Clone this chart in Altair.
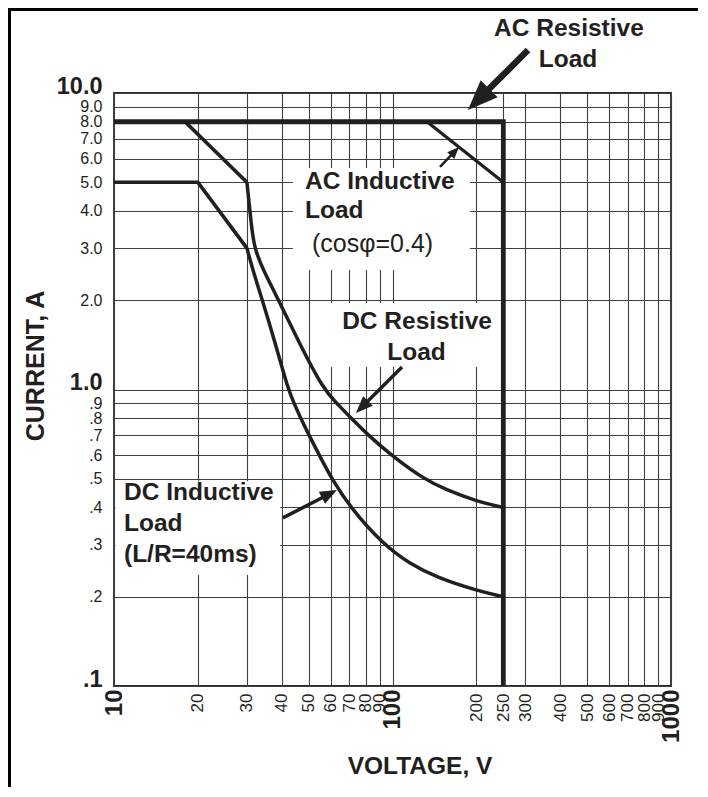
import math
import altair as alt
import pandas as pd

# ---------------- chart data ----------------
# axis ticks / labels
x_ticks = [10, 20, 30, 40, 50, 60, 70, 80, 90, 100, 200, 250, 300, 400, 500, 600, 700, 800, 900, 1000]
x_labels = ["10", "20", "30", "40", "50", "60", "70", "80", "90", "100", "200", "250", "300",
            "400", "500", "600", "700", "800", "900", "1000"]
x_bold = [10, 100, 1000]
y_ticks = [0.1, 0.2, 0.3, 0.4, 0.5, 0.6, 0.7, 0.8, 0.9, 1, 2, 3, 4, 5, 6, 7, 8, 9, 10]
y_labels = [".1", ".2", ".3", ".4", ".5", ".6", ".7", ".8", ".9", "1.0", "2.0", "3.0", "4.0",
            "5.0", "6.0", "7.0", "8.0", "9.0", "10.0"]
y_bold = [0.1, 1, 10]

# load curves (voltage V, current A)
ac_res_v = [10, 250, 250]
ac_res_i = [8.0, 8.0, 0.1]
ac_ind_v = [133, 250]
ac_ind_i = [8.0, 5.0]
dc_res_knee_v = [10, 18, 30]
dc_res_knee_i = [8.0, 8.0, 5.0]
dc_res_curve_v = [30, 30.8, 31.7, 34.7, 39, 46, 56.5, 63, 71, 82, 99, 129, 155, 200, 250]
dc_res_curve_i = [5.0, 4.0, 3.0, 2.48, 2.0, 1.45, 1.0, 0.9, 0.8, 0.7, 0.6, 0.5, 0.46, 0.42, 0.4]
dc_ind_knee_v = [10, 20, 30]
dc_ind_knee_i = [5.0, 5.0, 3.0]
dc_ind_curve_v = [30, 31.7, 34.1, 37.8, 42.2, 44.3, 46.8, 50.2, 54.6, 60.5, 70.5, 92.7, 115, 144.5, 200, 250]
dc_ind_curve_i = [3.0, 2.48, 2.0, 1.45, 1.0, 0.9, 0.8, 0.7, 0.6, 0.5, 0.4, 0.3, 0.259, 0.232, 0.21, 0.2]

# white boxes behind the annotation text (data coordinates)
box_v1 = [10.12, 43.9, 54.9]
box_v2 = [39.5, 189.7, 243.0]
box_i1 = [0.49, 5.59, 1.957]
box_i2 = [0.237, 2.53, 1.19]

# annotation text
ann_text = ["AC Resistive", "Load", "DC Resistive", "Load",
            "AC Inductive", "Load", "DC Inductive", "Load", "(L/R=40ms)",
            "(cosφ=0.4)"]
ann_v = [430, 427, 122.5, 122, 48.5, 48.5, 10.86, 10.86, 10.86, 51.4]
ann_i = [15.57, 12.24, 1.60, 1.257, 4.745, 3.79, 0.424, 0.333, 0.262, 2.91]
ann_kind = ["bold-center", "bold-center", "bold-center", "bold-center",
            "bold-left", "bold-left", "bold-left", "bold-left", "bold-left",
            "regular-left"]

# arrows (tail -> tip)
arrow_tail_v = [306.6, 148.1, 108.2, 40.4]
arrow_tail_i = [13.96, 5.63, 1.191, 0.369]
arrow_tip_v = [186.6, 173.3, 73.9, 63.2]
arrow_tip_i = [8.76, 6.58, 0.833, 0.458]
arrow_head_len = [30, 12, 17, 17]
arrow_shaft_w = [6.5, 2.5, 3.5, 3.5]

# ---------------- layout / style ----------------
PLOT_W, PLOT_H = 557, 593
X_DECADES, Y_DECADES = 2.0, 2.0
INK = "#231f20"
GRID = "#404040"
FONT = "Liberation Sans, Arial, Helvetica, sans-serif"


def lg(v):
    return math.log10(v)


def series_df(name, vs, is_):
    return pd.DataFrame({"series": name, "order": list(range(len(vs))), "V": vs, "I": is_})


def label_expr(values, labels):
    parts = [f"abs(datum.value - {v}) < {v * 1e-6:g} ? '{l}'" for v, l in zip(values, labels)]
    return " : ".join(parts) + " : ''"


def bold_test(values):
    return " || ".join(f"abs(datum.value - {v}) < {v * 1e-6:g}" for v in values)


def cond(test, a, b):
    return {"condition": {"test": test, "value": a}, "value": b}


xb = bold_test(x_bold)
yb = bold_test(y_bold)

x_axis = alt.Axis(
    values=x_ticks, labelExpr=label_expr(x_ticks, x_labels), labelAngle=270,
    labelFont=FONT, labelColor=INK,
    labelFontSize=cond(xb, 24, 17), labelFontWeight=cond(xb, "bold", "normal"),
    labelPadding=cond(xb, 3, 7),
    labelOverlap=False, labelFlush=False,
    ticks=False, tickSize=0, domain=False,
    grid=True, gridColor=GRID, gridWidth=1.1, gridOpacity=1,
    title="VOLTAGE, V", titleFont=FONT, titleFontSize=24.5, titleFontWeight="bold",
    titleColor=INK, titleX=305.5, titleY=87, titleAlign="center", titleBaseline="alphabetic",
)
y_axis = alt.Axis(
    values=y_ticks, labelExpr=label_expr(y_ticks, y_labels),
    labelFont=FONT, labelColor=INK,
    labelFontSize=cond(yb, 23.5, 16), labelFontWeight=cond(yb, "bold", "normal"),
    labelBaseline=cond(yb, "alphabetic", "middle"),
    labelPadding=12, labelOverlap=False, labelFlush=False,
    ticks=False, tickSize=0, domain=False,
    grid=True, gridColor=GRID, gridWidth=1.1, gridOpacity=1,
    title="CURRENT, A", titleFont=FONT, titleFontSize=25, titleFontWeight="bold",
    titleColor=INK, titleAngle=270, titleX=-71, titleY=272.5, titleAlign="center",
    titleBaseline="alphabetic",
)

xs = alt.Scale(type="log", domain=[10, 1000], nice=False)
ys = alt.Scale(type="log", domain=[0.1, 10], nice=False)


def X(field):
    return alt.X(field, type="quantitative", scale=xs, axis=x_axis)


def Y(field):
    return alt.Y(field, type="quantitative", scale=ys, axis=y_axis)


# ---------------- tables ----------------
knee_df = pd.concat([series_df("DC Resistive", dc_res_knee_v, dc_res_knee_i),
                     series_df("DC Inductive", dc_ind_knee_v, dc_ind_knee_i)])
curve_df = pd.concat([series_df("DC Resistive", dc_res_curve_v, dc_res_curve_i),
                      series_df("DC Inductive", dc_ind_curve_v, dc_ind_curve_i)])
acr_df = series_df("AC Resistive", ac_res_v, ac_res_i)
aci_df = series_df("AC Inductive", ac_ind_v, ac_ind_i)
box_df = pd.DataFrame({"V1": box_v1, "V2": box_v2, "I1": box_i1, "I2": box_i2})
ann_df = pd.DataFrame({"text": ann_text, "V": ann_v, "I": ann_i, "kind": ann_kind})

arrow_rows = []
for tv, ti, hv, hi, L, w in zip(arrow_tail_v, arrow_tail_i, arrow_tip_v, arrow_tip_i,
                                arrow_head_len, arrow_shaft_w):
    dx = (lg(hv) - lg(tv)) / X_DECADES * PLOT_W
    dy = -(lg(hi) - lg(ti)) / Y_DECADES * PLOT_H
    length = math.hypot(dx, dy)
    ang = math.degrees(math.atan2(dy, dx)) % 360
    f = max(0.0, (length - 0.6 * L) / length)
    arrow_rows.append({
        "V1": tv, "I1": ti,
        "V2": 10 ** (lg(tv) + f * (lg(hv) - lg(tv))),
        "I2": 10 ** (lg(ti) + f * (lg(hi) - lg(ti))),
        "V": hv, "I": hi, "ang": ang, "size": L * L, "w": w,
    })
arrow_df = pd.DataFrame(arrow_rows)

# ---------------- layers ----------------
boxes = alt.Chart(box_df).mark_rect(color="white", strokeWidth=0).encode(
    x=X("V1"), x2=alt.X2("V2"), y=Y("I1"), y2=alt.Y2("I2"))

knees = alt.Chart(knee_df).mark_line(
    color=INK, strokeWidth=3.7, strokeCap="butt", strokeJoin="miter").encode(
    x=X("V"), y=Y("I"), detail="series:N", order="order:Q")

curves = alt.Chart(curve_df).mark_line(
    color=INK, strokeWidth=3.5, interpolate="basis", strokeCap="butt").encode(
    x=X("V"), y=Y("I"), detail="series:N", order="order:Q")

ac_ind = alt.Chart(aci_df).mark_line(color=INK, strokeWidth=3.2, strokeCap="butt").encode(
    x=X("V"), y=Y("I"), order="order:Q")

ac_res = alt.Chart(acr_df).mark_line(
    color=INK, strokeWidth=4.8, strokeCap="butt", strokeJoin="miter").encode(
    x=X("V"), y=Y("I"), order="order:Q")

shafts = alt.Chart(arrow_df).mark_rule(color=INK, strokeCap="butt").encode(
    x=X("V1"), x2=alt.X2("V2"), y=Y("I1"), y2=alt.Y2("I2"),
    strokeWidth=alt.StrokeWidth("w:Q", scale=None))

heads = alt.Chart(arrow_df).mark_point(
    shape="M0,0L-2,-0.8L-2,0.8Z", filled=True, fill=INK, color=INK, strokeWidth=0, opacity=1).encode(
    x=X("V"), y=Y("I"),
    angle=alt.Angle("ang:Q", scale=None),
    size=alt.Size("size:Q", scale=None))


def text_layer(kind, weight, align, size):
    return alt.Chart(ann_df).transform_filter(alt.datum.kind == kind).mark_text(
        font=FONT, fontSize=size, fontWeight=weight, align=align, baseline="alphabetic",
        color=INK).encode(x=X("V"), y=Y("I"), text="text:N")


texts_bc = text_layer("bold-center", "bold", "center", 24.5)
texts_bl = text_layer("bold-left", "bold", "left", 24.5)
texts_rl = text_layer("regular-left", "normal", "left", 25)

frame_df = pd.DataFrame({"k": [0]})
frame_left = alt.Chart(frame_df).mark_rule(color="black", strokeWidth=3).encode(
    x=alt.value(-104.5), y=alt.value(-85), y2=alt.value(694))
frame_top = alt.Chart(frame_df).mark_rule(color="black", strokeWidth=3).encode(
    x=alt.value(-106), x2=alt.value(584), y=alt.value(-83.5))

chart = alt.layer(
    boxes, knees, curves, ac_ind, ac_res, shafts, heads,
    texts_bc, texts_bl, texts_rl, frame_left, frame_top,
).properties(
    width=PLOT_W, height=PLOT_H,
    autosize=alt.AutoSizeParams(type="none"),
    padding={"left": 106, "top": 85, "right": 27, "bottom": 101},
    background="white",
).configure_view(stroke="#2a2a2a", strokeWidth=1.8)

chart.save("out.html", embed_options={"renderer": "svg", "actions": False})
